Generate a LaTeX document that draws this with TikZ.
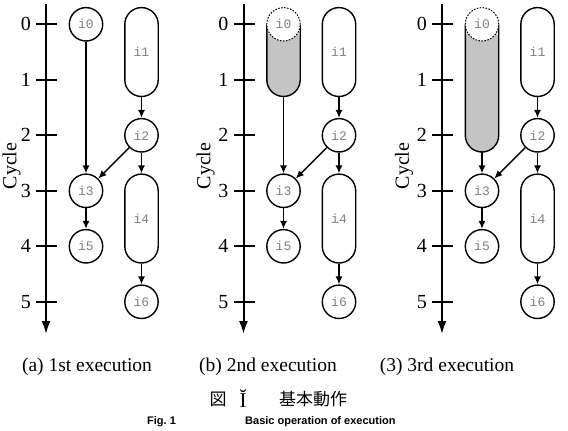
\documentclass[tikz,border=0pt]{standalone}
\usepackage{fontspec}
\setmainfont{Liberation Serif}
\newfontfamily\monof{Liberation Mono}
\newfontfamily\cjkf{Noto Sans CJK JP}
\newfontfamily\capsf{Liberation Sans}
\usetikzlibrary{arrows.meta}
\definecolor{graybody}{gray}{0.77}
\begin{document}
\begin{tikzpicture}[x=1pt,y=-1pt,
  op/.style={circle,draw,line width=1.4pt,minimum size=33.4pt,inner sep=0pt,
    font=\monof\fontsize{13}{13}\selectfont,text=black!50,fill=white},
  longop/.style={rectangle,rounded corners=16.7pt,draw,line width=1.4pt,
    minimum width=33.4pt,minimum height=88.9pt,inner sep=0pt,
    font=\monof\fontsize{13}{13}\selectfont,text=black!50},
  ghost/.style={op,line width=1pt,dash pattern=on 1.6pt off 1.4pt},
  arr/.style={line width=1.4pt,-{Latex[length=8pt,width=7pt]}},
  cyclax/.style={line width=2pt,-{Latex[length=13pt,width=9pt]}},
  tk/.style={line width=2pt},
  lab/.style={font=\fontsize{20}{20}\selectfont,inner sep=0pt},
  capt/.style={font=\fontsize{19.5}{20}\selectfont,inner sep=0pt},
]
\useasboundingbox (0,0) rectangle (568,431);
\foreach \p/\o/\n in {a/0/0,b/197.5/1,c/396/2}{
  % axis
  \draw[cyclax] ({46+\o},4) -- ({46+\o},334);
  \foreach \c in {0,...,5}{
    \draw[tk] ({36+\o},{24.3+55.5*\c}) -- ({57+\o},{24.3+55.5*\c});
    \node[lab,anchor=east] (\p t\c) at ({31+\o},{24.3+55.5*\c}) {\c};
  }
  % i0
  \ifnum\n=0
    \node[lab,rotate=90] (\p cy) at (11.5,166) {Cycle};
    \node[op] (\p0) at ({86+\o},24.3) {i0};
  \else
    \node[lab,rotate=90] (\p cy) at ({8+\o},166) {Cycle};
    \fill[graybody,rounded corners=16.7pt] ({86-16.7+\o},24.3) -- ({86-16.7+\o},{24.3+55.5*\n+16.7}) -- ({86+16.7+\o},{24.3+55.5*\n+16.7}) -- ({86+16.7+\o},24.3) -- cycle;
    \draw[line width=1.4pt,rounded corners=16.7pt] ({86-16.7+\o},24.3) -- ({86-16.7+\o},{24.3+55.5*\n+16.7}) -- ({86+16.7+\o},{24.3+55.5*\n+16.7}) -- ({86+16.7+\o},24.3);
    \coordinate (\p0end) at ({86+\o},{24.3+55.5*\n+16.7});
    \node[ghost] (\p0) at ({86+\o},24.3) {i0};
  \fi
  \node[longop] (\p1) at ({141.5+\o},52.05) {i1};
  \node[op] (\p2) at ({141.5+\o},135.3) {i2};
  \node[op] (\p3) at ({86+\o},190.8) {i3};
  \node[longop] (\p4) at ({141.5+\o},218.55) {i4};
  \node[op] (\p5) at ({86+\o},246.3) {i5};
  \node[op] (\p6) at ({141.5+\o},301.8) {i6};
  \ifnum\n=0
    \draw[arr] (\p0) -- (\p3);
  \else
    \draw[arr] (\p0end) -- (\p3);
  \fi
  \draw[arr] (\p1) -- (\p2);
  \draw[arr] (\p2) -- (\p3);
  \draw[arr] (\p2) -- (\p4);
  \draw[arr] (\p3) -- (\p5);
  \draw[arr] (\p4) -- (\p6);
}
\node[capt] (ca) at (87,367) {(a) 1st execution};
\node[capt] (cb) at (268,367) {(b) 2nd execution};
\node[capt] (cc) at (447,367) {(3) 3rd execution};
\node[font=\cjkf\fontsize{17}{17}\selectfont,inner sep=0pt] (f1) at (218,399) {図};
\node[font=\fontsize{21}{21}\selectfont,inner sep=0pt] (f2) at (243,399) {Ĭ};
\node[font=\cjkf\fontsize{17}{17}\selectfont,inner sep=0pt] (f3) at (313,399) {基本動作};
\node[font=\capsf\bfseries\fontsize{11}{11}\selectfont,inner sep=0pt,anchor=north west] (g1) at (147,416) {Fig.~1};
\node[font=\capsf\bfseries\fontsize{11}{11}\selectfont,inner sep=0pt,anchor=north west] (g2) at (245,416) {Basic operation of execution};
\end{tikzpicture}
\end{document}
